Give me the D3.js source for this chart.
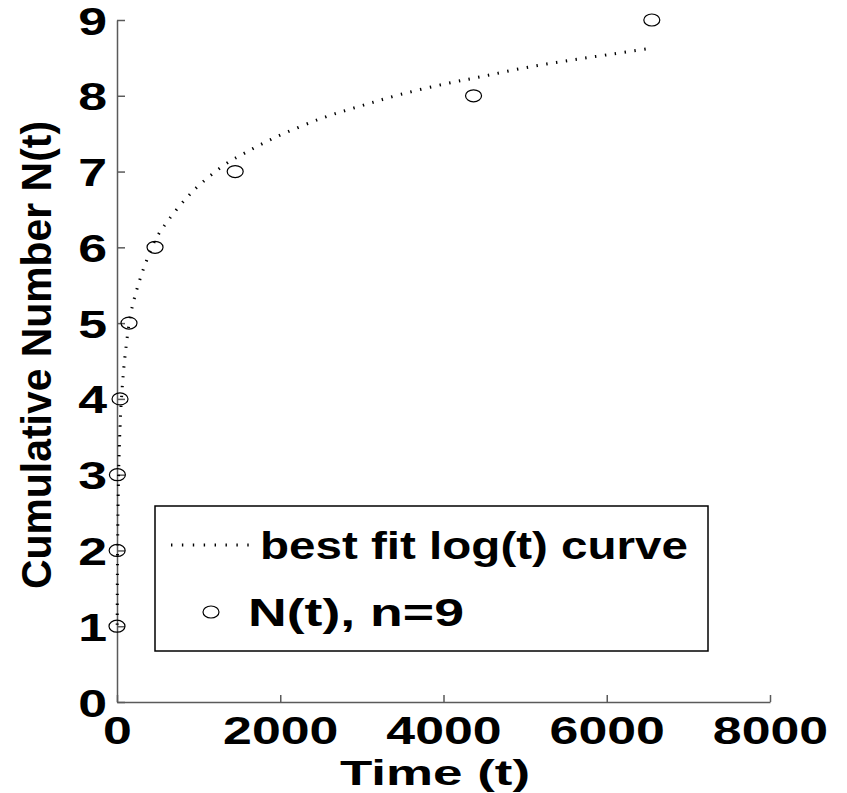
<!DOCTYPE html>
<html>
<head>
<meta charset="utf-8">
<script src="https://cdn.jsdelivr.net/npm/d3@7"></script>
<style>
  html, body { margin: 0; padding: 0; background: #fff; }
  svg { display: block; }
  text { font-family: "Liberation Sans", Arial, Helvetica, sans-serif; fill: #000; }
</style>
</head>
<body>
<svg id="chart" width="847" height="793"></svg>
<script>
// ---- data ----
const eventTimes = [0, 2, 5, 37, 147, 466, 1448, 4368, 6552];
const eventCounts = [1, 2, 3, 4, 5, 6, 7, 8, 9];

const curveT = [2.5, 5, 10, 20, 37, 60, 100, 168, 250, 350, 475, 630, 850, 1027, 1333, 1558, 1918, 2500, 3000, 3481, 4033, 4500, 5000, 5500, 6000, 6564];
const curveN = [1.02, 1.69, 2.36, 3.03, 3.62, 4.09, 4.58, 5.12, 5.47, 5.79, 6.11, 6.36, 6.65, 6.84, 7.10, 7.24, 7.44, 7.70, 7.87, 8.02, 8.16, 8.26, 8.37, 8.46, 8.54, 8.63];

const xTicks = [0, 2000, 4000, 6000, 8000];
const yTicks = [0, 1, 2, 3, 4, 5, 6, 7, 8, 9];

const xLabel = "Time (t)";
const yLabel = "Cumulative Number N(t)";
const legendLabels = ["best fit log(t) curve", "N(t), n=9"];

// ---- drawing ----
const svg = d3.select("#chart");
const SX = 1.33; // horizontal stretch of the original figure text

const x = d3.scaleLinear().domain([0, 8000]).range([117, 770]);
const y = d3.scaleLinear().domain([0, 9]).range([702, 20]);

const axisColor = "#5a5a5a";

// y axis
const gy = svg.append("g").attr("transform", `translate(${x(0)},0)`)
  .call(d3.axisLeft(y).tickValues(yTicks).tickFormat(d3.format("d")).tickSizeInner(-8).tickSizeOuter(0).tickPadding(0));
gy.select(".domain").attr("stroke", axisColor).attr("stroke-width", 1.5);
gy.selectAll(".tick line").attr("stroke", axisColor).attr("stroke-width", 1.5);
gy.selectAll(".tick text")
  .attr("font-size", 39).attr("font-weight", "bold")
  .attr("text-anchor", "end")
  .attr("x", -10 / SX)
  .attr("dy", "0.36em")
  .attr("transform", `scale(${SX},1)`)
  .style("font-family", "'Liberation Sans', Arial, sans-serif");

// x axis
const gx = svg.append("g").attr("transform", `translate(0,${y(0)})`)
  .call(d3.axisBottom(x).tickValues(xTicks).tickFormat(d3.format("d")).tickSizeInner(-7).tickSizeOuter(0).tickPadding(0));
gx.select(".domain").attr("stroke", axisColor).attr("stroke-width", 1.5);
gx.selectAll(".tick line").attr("stroke", axisColor).attr("stroke-width", 1.5);
gx.selectAll(".tick text")
  .attr("font-size", 39).attr("font-weight", "bold")
  .attr("x", 0).attr("y", 14).attr("dy", "0.71em")
  .attr("transform", `scale(${SX},1)`)
  .style("font-family", "'Liberation Sans', Arial, sans-serif");

// axis titles
svg.append("text")
  .attr("transform", `translate(435,785) scale(${SX},1)`)
  .attr("text-anchor", "middle")
  .attr("font-size", 35).attr("font-weight", "bold")
  .attr("textLength", 190 / SX).attr("lengthAdjust", "spacingAndGlyphs")
  .text(xLabel);

svg.append("text")
  .attr("transform", `translate(51,355) rotate(-90)`)
  .attr("text-anchor", "middle")
  .attr("font-size", 43).attr("font-weight", "bold")
  .attr("textLength", 468).attr("lengthAdjust", "spacingAndGlyphs")
  .text(yLabel);

// fit curve (dotted)
const line = d3.line()
  .x((d, i) => x(curveT[i]))
  .y((d, i) => y(curveN[i]))
  .curve(d3.curveCatmullRom.alpha(0.5));

svg.append("path")
  .attr("d", line(curveT))
  .attr("fill", "none")
  .attr("stroke", "#000")
  .attr("stroke-width", 3)
  .attr("stroke-dasharray", "1.4,8.5");

// data markers
svg.append("g").selectAll("ellipse")
  .data(eventTimes)
  .join("ellipse")
  .attr("cx", (d) => x(d))
  .attr("cy", (d, i) => y(eventCounts[i]))
  .attr("rx", 8).attr("ry", 6)
  .attr("fill", "none")
  .attr("stroke", "#000")
  .attr("stroke-width", 1.2);

// legend
const lg = svg.append("g");
lg.append("rect")
  .attr("x", 155).attr("y", 506).attr("width", 553).attr("height", 145)
  .attr("fill", "#fff").attr("stroke", "#000").attr("stroke-width", 1.5);
lg.append("line")
  .attr("x1", 171).attr("x2", 257).attr("y1", 545).attr("y2", 545)
  .attr("stroke", "#000").attr("stroke-width", 3)
  .attr("stroke-dasharray", "1.4,9.5");
lg.append("ellipse")
  .attr("cx", 211).attr("cy", 612).attr("rx", 8).attr("ry", 6)
  .attr("fill", "none").attr("stroke", "#000").attr("stroke-width", 1.2);
lg.append("text")
  .attr("transform", `translate(260,559) scale(${SX},1)`)
  .attr("font-size", 38).attr("font-weight", "bold")
  .attr("textLength", 428 / SX).attr("lengthAdjust", "spacingAndGlyphs")
  .text(legendLabels[0]);
lg.append("text")
  .attr("transform", `translate(248,626) scale(${SX},1)`)
  .attr("font-size", 38).attr("font-weight", "bold")
  .attr("textLength", 216 / SX).attr("lengthAdjust", "spacingAndGlyphs")
  .text(legendLabels[1]);
</script>
</body>
</html>
